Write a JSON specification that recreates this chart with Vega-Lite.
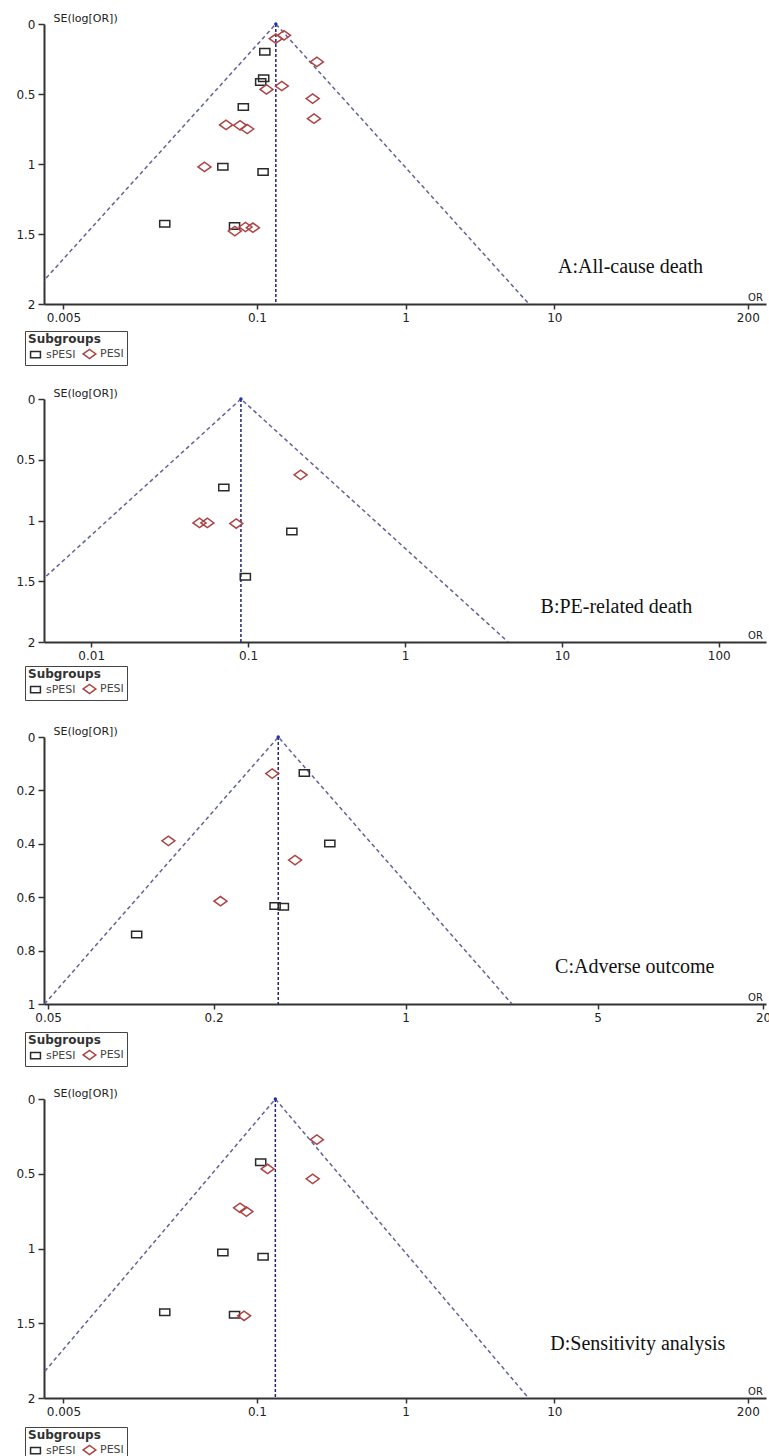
{
  "$schema": "https://vega.github.io/schema/vega-lite/v6.json",
  "padding": {"left": 15, "top": 12, "right": 0, "bottom": 0},
  "bounds": "flush",
  "spacing": 95,
  "background": "white",
  "config": {
    "view": {"stroke": null},
    "font": "DejaVu Sans",
    "axis": {"grid": false, "domainColor": "#333", "domainWidth": 2, "tickColor": "#333", "tickWidth": 1.5, "labelFont": "DejaVu Sans", "labelFontSize": 12, "labelColor": "#222", "titleFont": "DejaVu Sans", "titleFontWeight": "normal", "titleColor": "#222"},
    "axisX": {"tickSize": 5, "labelPadding": 3, "labelFlush": false, "titleFontSize": 10, "titleX": 711, "titleY": -2, "titleAlign": "center", "titleBaseline": "bottom", "format": "~g"},
    "axisY": {"tickSize": 6, "labelPadding": 3, "titleAngle": 0, "titleAlign": "left", "titleBaseline": "bottom", "titleX": 9, "titleY": -1, "titleFontSize": 11, "format": "~g"},
    "legend": {"orient": "none", "direction": "horizontal", "strokeColor": "#444", "padding": 3, "titleFontSize": 12, "titleFontWeight": "bold", "titleFont": "DejaVu Sans", "titleColor": "#333", "labelFontSize": 11, "labelFont": "DejaVu Sans", "labelColor": "#444", "symbolStrokeWidth": 1.5, "symbolSize": 160, "columnPadding": 4, "labelOffset": 3, "titlePadding": 0, "legendX": -19}
  },
  "resolve": {"scale": {"x": "independent", "y": "independent", "color": "independent", "shape": "independent"}, "legend": {"color": "independent", "shape": "independent"}},
  "datasets": {
    "A": [
      {"group": "sPESI", "OR": 0.113, "SE": 0.198},
      {"group": "sPESI", "OR": 0.111, "SE": 0.388},
      {"group": "sPESI", "OR": 0.106, "SE": 0.414},
      {"group": "sPESI", "OR": 0.081, "SE": 0.593},
      {"group": "sPESI", "OR": 0.059, "SE": 1.02},
      {"group": "sPESI", "OR": 0.110, "SE": 1.057},
      {"group": "sPESI", "OR": 0.024, "SE": 1.426},
      {"group": "sPESI", "OR": 0.0707, "SE": 1.443},
      {"group": "PESI", "OR": 0.134, "SE": 0.105},
      {"group": "PESI", "OR": 0.152, "SE": 0.081},
      {"group": "PESI", "OR": 0.253, "SE": 0.271},
      {"group": "PESI", "OR": 0.116, "SE": 0.467},
      {"group": "PESI", "OR": 0.147, "SE": 0.443},
      {"group": "PESI", "OR": 0.237, "SE": 0.533},
      {"group": "PESI", "OR": 0.242, "SE": 0.676},
      {"group": "PESI", "OR": 0.062, "SE": 0.721},
      {"group": "PESI", "OR": 0.077, "SE": 0.724},
      {"group": "PESI", "OR": 0.086, "SE": 0.75},
      {"group": "PESI", "OR": 0.0444, "SE": 1.021},
      {"group": "PESI", "OR": 0.0838, "SE": 1.45},
      {"group": "PESI", "OR": 0.094, "SE": 1.455},
      {"group": "PESI", "OR": 0.071, "SE": 1.479}
    ],
    "B": [
      {"group": "sPESI", "OR": 0.070, "SE": 0.728},
      {"group": "sPESI", "OR": 0.19, "SE": 1.091},
      {"group": "sPESI", "OR": 0.096, "SE": 1.462},
      {"group": "PESI", "OR": 0.216, "SE": 0.624},
      {"group": "PESI", "OR": 0.049, "SE": 1.02},
      {"group": "PESI", "OR": 0.055, "SE": 1.02},
      {"group": "PESI", "OR": 0.084, "SE": 1.025}
    ],
    "C": [
      {"group": "sPESI", "OR": 0.428, "SE": 0.135},
      {"group": "sPESI", "OR": 0.53, "SE": 0.399},
      {"group": "sPESI", "OR": 0.335, "SE": 0.633},
      {"group": "sPESI", "OR": 0.359, "SE": 0.636},
      {"group": "sPESI", "OR": 0.105, "SE": 0.74},
      {"group": "PESI", "OR": 0.327, "SE": 0.137},
      {"group": "PESI", "OR": 0.137, "SE": 0.389},
      {"group": "PESI", "OR": 0.396, "SE": 0.461},
      {"group": "PESI", "OR": 0.212, "SE": 0.615}
    ],
    "D": [
      {"group": "sPESI", "OR": 0.106, "SE": 0.423},
      {"group": "sPESI", "OR": 0.059, "SE": 1.027},
      {"group": "sPESI", "OR": 0.110, "SE": 1.055},
      {"group": "sPESI", "OR": 0.024, "SE": 1.427},
      {"group": "sPESI", "OR": 0.0707, "SE": 1.443},
      {"group": "PESI", "OR": 0.253, "SE": 0.272},
      {"group": "PESI", "OR": 0.118, "SE": 0.468},
      {"group": "PESI", "OR": 0.237, "SE": 0.534},
      {"group": "PESI", "OR": 0.077, "SE": 0.728},
      {"group": "PESI", "OR": 0.085, "SE": 0.753},
      {"group": "PESI", "OR": 0.082, "SE": 1.45}
    ],
    "fA": [{"OR": 0.00266, "SE": 2}, {"OR": 0.134, "SE": 0}, {"OR": 6.75, "SE": 2}],
    "fB": [{"OR": 0.001786, "SE": 2}, {"OR": 0.09, "SE": 0}, {"OR": 4.54, "SE": 2}],
    "fC": [{"OR": 0.0485, "SE": 1}, {"OR": 0.344, "SE": 0}, {"OR": 2.44, "SE": 1}],
    "fD": [{"OR": 0.00264, "SE": 2}, {"OR": 0.133, "SE": 0}, {"OR": 6.70, "SE": 2}]
  },
  "vconcat": [
    {
      "width": 722, "height": 280,
      "layer": [
        {"data": {"name": "fA"}, "mark": {"type": "line", "clip": true, "color": "#62629a", "strokeDash": [4, 3], "strokeWidth": 1.5},
         "encoding": {
           "x": {"field": "OR", "type": "quantitative", "scale": {"type": "log", "domain": [0.0037, 265], "nice": false}, "axis": {"values": [0.005, 0.1, 1, 10, 200], "title": "OR"}},
           "y": {"field": "SE", "type": "quantitative", "scale": {"domain": [0, 2], "reverse": true, "nice": false}, "axis": {"values": [0, 0.5, 1, 1.5, 2], "title": "SE(log[OR])"}}}},
        {"data": {"values": [{}]}, "mark": {"type": "rule", "color": "#22227a", "strokeDash": [3, 2], "strokeWidth": 1.5},
         "encoding": {"x": {"datum": 0.134}, "y": {"datum": 0}, "y2": {"datum": 2}}},
        {"data": {"values": [{}]}, "mark": {"type": "point", "filled": true, "color": "#2233aa", "size": 12, "opacity": 1},
         "encoding": {"x": {"datum": 0.134}, "y": {"datum": 0}}},
        {"data": {"name": "A"}, "mark": {"type": "point", "filled": false, "strokeWidth": 1.5, "size": 169, "opacity": 1},
         "encoding": {
           "x": {"field": "OR", "type": "quantitative"},
           "y": {"field": "SE", "type": "quantitative"},
           "shape": {"field": "group", "type": "nominal", "scale": {"domain": ["sPESI", "PESI"], "range": ["M-0.78,-0.5L0.78,-0.5L0.78,0.5L-0.78,0.5Z", "M-1,0L0,-0.72L1,0L0,0.72Z"]}, "legend": {"title": "Subgroups", "legendY": 307}},
           "color": {"field": "group", "type": "nominal", "scale": {"domain": ["sPESI", "PESI"], "range": ["#2a2a2a", "#ad4444"]}, "legend": {"title": "Subgroups", "legendY": 307}}}},
        {"data": {"values": [{}]}, "mark": {"type": "text", "font": "Liberation Serif", "fontSize": 20, "align": "left", "baseline": "alphabetic", "color": "#111"},
         "encoding": {"x": {"datum": 10.6}, "y": {"datum": 1.776}, "text": {"value": "A:All-cause death"}}}
      ]
    },
    {
      "width": 722, "height": 243,
      "layer": [
        {"data": {"name": "fB"}, "mark": {"type": "line", "clip": true, "color": "#62629a", "strokeDash": [4, 3], "strokeWidth": 1.5},
         "encoding": {
           "x": {"field": "OR", "type": "quantitative", "scale": {"type": "log", "domain": [0.005, 200], "nice": false}, "axis": {"values": [0.01, 0.1, 1, 10, 100], "title": "OR"}},
           "y": {"field": "SE", "type": "quantitative", "scale": {"domain": [0, 2], "reverse": true, "nice": false}, "axis": {"values": [0, 0.5, 1, 1.5, 2], "title": "SE(log[OR])"}}}},
        {"data": {"values": [{}]}, "mark": {"type": "rule", "color": "#22227a", "strokeDash": [3, 2], "strokeWidth": 1.5},
         "encoding": {"x": {"datum": 0.09}, "y": {"datum": 0}, "y2": {"datum": 2}}},
        {"data": {"values": [{}]}, "mark": {"type": "point", "filled": true, "color": "#2233aa", "size": 12, "opacity": 1},
         "encoding": {"x": {"datum": 0.09}, "y": {"datum": 0}}},
        {"data": {"name": "B"}, "mark": {"type": "point", "filled": false, "strokeWidth": 1.5, "size": 169, "opacity": 1},
         "encoding": {
           "x": {"field": "OR", "type": "quantitative"},
           "y": {"field": "SE", "type": "quantitative"},
           "shape": {"field": "group", "type": "nominal", "scale": {"domain": ["sPESI", "PESI"], "range": ["M-0.78,-0.5L0.78,-0.5L0.78,0.5L-0.78,0.5Z", "M-1,0L0,-0.72L1,0L0,0.72Z"]}, "legend": {"title": "Subgroups", "legendY": 267}},
           "color": {"field": "group", "type": "nominal", "scale": {"domain": ["sPESI", "PESI"], "range": ["#2a2a2a", "#ad4444"]}, "legend": {"title": "Subgroups", "legendY": 267}}}},
        {"data": {"values": [{}]}, "mark": {"type": "text", "font": "Liberation Serif", "fontSize": 20, "align": "left", "baseline": "alphabetic", "color": "#111"},
         "encoding": {"x": {"datum": 7.31}, "y": {"datum": 1.758}, "text": {"value": "B:PE-related death"}}}
      ]
    },
    {
      "width": 722, "height": 267,
      "layer": [
        {"data": {"name": "fC"}, "mark": {"type": "line", "clip": true, "color": "#62629a", "strokeDash": [4, 3], "strokeWidth": 1.5},
         "encoding": {
           "x": {"field": "OR", "type": "quantitative", "scale": {"type": "log", "domain": [0.0483, 20.5], "nice": false}, "axis": {"values": [0.05, 0.2, 1, 5, 20], "title": "OR"}},
           "y": {"field": "SE", "type": "quantitative", "scale": {"domain": [0, 1], "reverse": true, "nice": false}, "axis": {"values": [0, 0.2, 0.4, 0.6, 0.8, 1], "title": "SE(log[OR])"}}}},
        {"data": {"values": [{}]}, "mark": {"type": "rule", "color": "#22227a", "strokeDash": [3, 2], "strokeWidth": 1.5},
         "encoding": {"x": {"datum": 0.344}, "y": {"datum": 0}, "y2": {"datum": 1}}},
        {"data": {"values": [{}]}, "mark": {"type": "point", "filled": true, "color": "#2233aa", "size": 12, "opacity": 1},
         "encoding": {"x": {"datum": 0.344}, "y": {"datum": 0}}},
        {"data": {"name": "C"}, "mark": {"type": "point", "filled": false, "strokeWidth": 1.5, "size": 169, "opacity": 1},
         "encoding": {
           "x": {"field": "OR", "type": "quantitative"},
           "y": {"field": "SE", "type": "quantitative"},
           "shape": {"field": "group", "type": "nominal", "scale": {"domain": ["sPESI", "PESI"], "range": ["M-0.78,-0.5L0.78,-0.5L0.78,0.5L-0.78,0.5Z", "M-1,0L0,-0.72L1,0L0,0.72Z"]}, "legend": {"title": "Subgroups", "legendY": 295}},
           "color": {"field": "group", "type": "nominal", "scale": {"domain": ["sPESI", "PESI"], "range": ["#2a2a2a", "#ad4444"]}, "legend": {"title": "Subgroups", "legendY": 295}}}},
        {"data": {"values": [{}]}, "mark": {"type": "text", "font": "Liberation Serif", "fontSize": 20, "align": "left", "baseline": "alphabetic", "color": "#111"},
         "encoding": {"x": {"datum": 3.5}, "y": {"datum": 0.883}, "text": {"value": "C:Adverse outcome"}}}
      ]
    },
    {
      "width": 722, "height": 299,
      "layer": [
        {"data": {"name": "fD"}, "mark": {"type": "line", "clip": true, "color": "#62629a", "strokeDash": [4, 3], "strokeWidth": 1.5},
         "encoding": {
           "x": {"field": "OR", "type": "quantitative", "scale": {"type": "log", "domain": [0.0037, 265], "nice": false}, "axis": {"values": [0.005, 0.1, 1, 10, 200], "title": "OR"}},
           "y": {"field": "SE", "type": "quantitative", "scale": {"domain": [0, 2], "reverse": true, "nice": false}, "axis": {"values": [0, 0.5, 1, 1.5, 2], "title": "SE(log[OR])"}}}},
        {"data": {"values": [{}]}, "mark": {"type": "rule", "color": "#22227a", "strokeDash": [3, 2], "strokeWidth": 1.5},
         "encoding": {"x": {"datum": 0.133}, "y": {"datum": 0}, "y2": {"datum": 2}}},
        {"data": {"values": [{}]}, "mark": {"type": "point", "filled": true, "color": "#2233aa", "size": 12, "opacity": 1},
         "encoding": {"x": {"datum": 0.133}, "y": {"datum": 0}}},
        {"data": {"name": "D"}, "mark": {"type": "point", "filled": false, "strokeWidth": 1.5, "size": 169, "opacity": 1},
         "encoding": {
           "x": {"field": "OR", "type": "quantitative"},
           "y": {"field": "SE", "type": "quantitative"},
           "shape": {"field": "group", "type": "nominal", "scale": {"domain": ["sPESI", "PESI"], "range": ["M-0.78,-0.5L0.78,-0.5L0.78,0.5L-0.78,0.5Z", "M-1,0L0,-0.72L1,0L0,0.72Z"]}, "legend": {"title": "Subgroups", "legendY": 328}},
           "color": {"field": "group", "type": "nominal", "scale": {"domain": ["sPESI", "PESI"], "range": ["#2a2a2a", "#ad4444"]}, "legend": {"title": "Subgroups", "legendY": 328}}}},
        {"data": {"values": [{}]}, "mark": {"type": "text", "font": "Liberation Serif", "fontSize": 20, "align": "left", "baseline": "alphabetic", "color": "#111"},
         "encoding": {"x": {"datum": 9.4}, "y": {"datum": 1.681}, "text": {"value": "D:Sensitivity analysis"}}}
      ]
    }
  ]
}
